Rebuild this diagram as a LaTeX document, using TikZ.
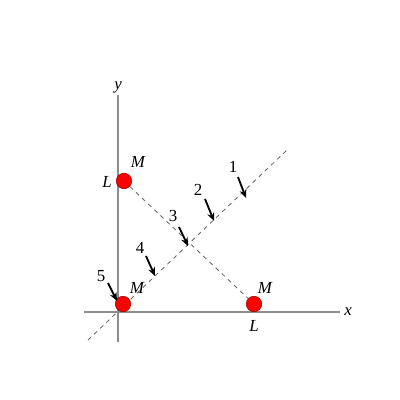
\documentclass[tikz,border=0pt]{standalone}
\usepackage{fontspec}
\setmainfont{Liberation Serif}
\usetikzlibrary{arrows.meta}
\tikzset{
	axis/.style={draw=gray!90, line width=1.1pt},
	dashline/.style={draw=gray!80!black, dashed, line width=0.6pt},
	mass/.style={circle, fill=red, draw=red!60!black, line width=0.4pt, minimum size=11pt, inner sep=0pt},
	lbl/.style={font=\fontsize{12}{14}\selectfont\itshape, inner sep=0pt},
	num/.style={font=\fontsize{12}{14}\selectfont, inner sep=0pt},
	hit/.style={-{Stealth[length=6pt,width=5pt]}, line width=1.3pt}
}
\begin{document}
\begin{tikzpicture}[x=0.025cm, y=-0.025cm]
		\useasboundingbox (0,0) rectangle (400,400);
		% axes
		\coordinate (xl) at (84,312);
		\coordinate (xr) at (340,312);
		\coordinate (yb) at (118,342);
		\coordinate (yt) at (118,95);
		\draw[axis] (xl) -- (xr);
		\draw[axis] (yb) -- (yt);
		\node[lbl] (xlab) at (348,312) {x};
		\node[lbl] (ylab) at (118,87) {y};
		% rod ends and diagonal
		\coordinate (da) at (88,340);
		\coordinate (db) at (287,150);
		\draw[dashline] (da) -- (db);
		\node[mass] (top) at (124,181) {};
		\node[mass] (orig) at (123,304) {};
		\node[mass] (right) at (254,304) {};
		\draw[dashline] (top) -- (right);
		\node[lbl] (ltop) at (107,182) {L};
		\node[lbl] (mtop) at (138,162) {M};
		\node[lbl] (morig) at (137,288) {M};
		\node[lbl] (mright) at (265,288) {M};
		\node[lbl] (lright) at (254,326) {L};
		% numbered arrows
		\coordinate (s1) at (238,177); \coordinate (e1) at (246,198);
		\coordinate (s2) at (205,199); \coordinate (e2) at (214,221);
		\coordinate (s3) at (179,227); \coordinate (e3) at (188,246);
		\coordinate (s4) at (146,256); \coordinate (e4) at (155,276);
		\coordinate (s5) at (108,283); \coordinate (e5) at (117,301);
		\foreach \i in {1,...,5}
			\draw[hit] (s\i) -- (e\i);
		\node[num] (n1) at (233,167) {1};
		\node[num] (n2) at (198,190) {2};
		\node[num] (n3) at (173,216) {3};
		\node[num] (n4) at (140,248) {4};
		\node[num] (n5) at (101,276) {5};
	\end{tikzpicture}
\end{document}
